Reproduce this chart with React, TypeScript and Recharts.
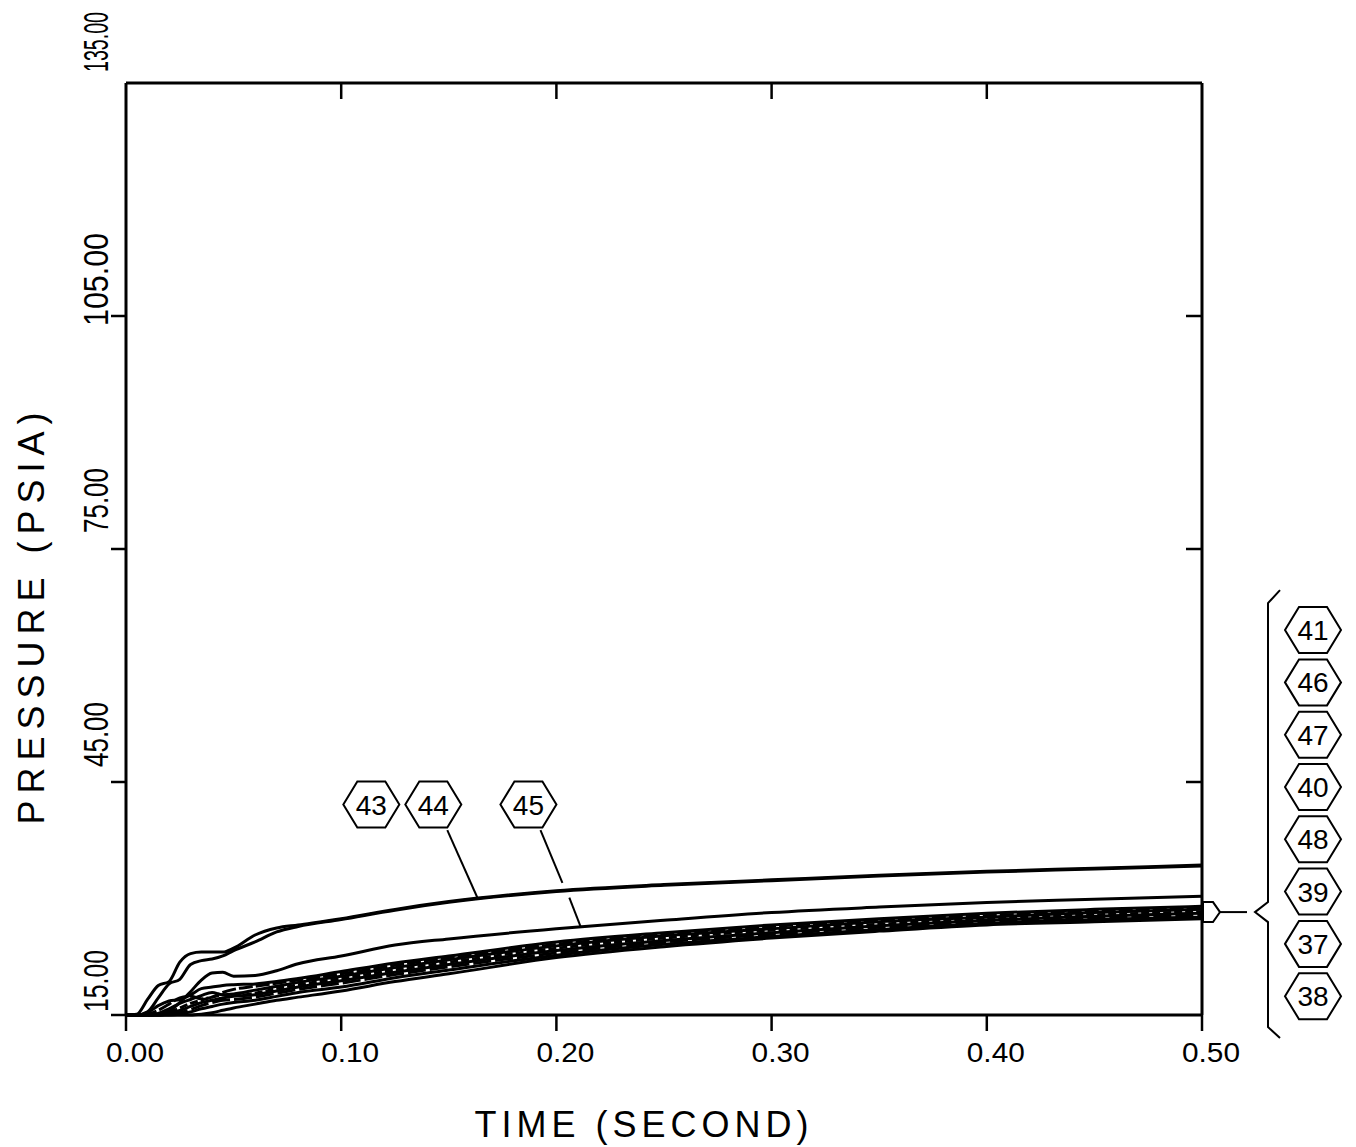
import React from 'react';
import { LineChart, Line, XAxis, YAxis, ReferenceDot, ReferenceLine, Label } from 'recharts';

// time grid (s) shared by all traces
const TIMES = [0, 0.005, 0.01, 0.015, 0.02, 0.025, 0.03, 0.035, 0.04, 0.045, 0.05, 0.06, 0.07, 0.08, 0.1, 0.125, 0.15, 0.2, 0.25, 0.3, 0.35, 0.4, 0.45, 0.5];

// pressure traces (psia), one per node
const P43 = [15, 15.1, 17.0, 18.8, 19.3, 21.8, 22.9, 23.1, 23.1, 23.1, 23.6, 25.3, 26.2, 26.6, 27.4, 28.6, 29.6, 31.0, 31.8, 32.4, 33.0, 33.5, 33.9, 34.3];
const P44 = [15, 15.0, 15.4, 17.2, 19.0, 19.6, 21.5, 22.0, 22.2, 22.6, 23.3, 24.4, 25.7, 26.4, 27.3, 28.5, 29.5, 30.9, 31.7, 32.3, 32.9, 33.4, 33.8, 34.2];
const P45 = [15, 15, 15, 15.1, 15.5, 16.6, 18.0, 19.5, 20.4, 20.5, 20.0, 20.1, 20.7, 21.6, 22.6, 24.0, 24.8, 26.1, 27.2, 28.2, 28.9, 29.5, 29.9, 30.3];
const P41 = [15, 15, 15.3, 16.2, 16.8, 17.0, 17.6, 18.4, 18.6, 18.8, 18.9, 19.0, 19.3, 19.7, 20.6, 21.7, 22.6, 24.4, 25.6, 26.6, 27.4, 28.1, 28.6, 29.0];
const P46 = [15, 15, 15.1, 15.6, 16.4, 17.2, 17.4, 17.1, 17.3, 17.9, 18.3, 18.7, 19.1, 19.5, 20.3, 21.4, 22.4, 24.1, 25.4, 26.4, 27.2, 27.8, 28.4, 28.8];
const P47 = [15, 15, 15, 15.2, 15.8, 16.5, 17.0, 17.5, 17.9, 17.6, 17.7, 18.2, 18.7, 19.2, 20.0, 21.1, 22.1, 23.9, 25.2, 26.1, 27.0, 27.6, 28.2, 28.6];
const P40 = [15, 15, 15, 15.1, 15.4, 15.9, 16.5, 16.9, 17.3, 17.6, 17.5, 17.8, 18.4, 18.9, 19.7, 20.8, 21.8, 23.6, 24.9, 25.9, 26.7, 27.4, 27.9, 28.3];
const P48 = [15, 15, 15, 15, 15.2, 15.6, 16.1, 16.6, 16.9, 17.2, 17.4, 17.6, 18.1, 18.6, 19.4, 20.5, 21.5, 23.3, 24.6, 25.6, 26.5, 27.2, 27.7, 28.1];
const P39 = [15, 15, 15, 15, 15.1, 15.3, 15.7, 16.2, 16.6, 16.9, 17.0, 17.3, 17.8, 18.3, 19.1, 20.2, 21.2, 23.0, 24.4, 25.4, 26.3, 27.0, 27.5, 27.9];
const P37 = [15, 15, 15, 15, 15, 15.1, 15.4, 15.8, 16.1, 16.4, 16.6, 16.9, 17.4, 17.9, 18.6, 19.8, 20.8, 22.7, 24.1, 25.1, 26.0, 26.8, 27.3, 27.6];
const P38 = [15, 15, 15, 15, 15, 15, 15, 15.1, 15.3, 15.6, 15.9, 16.4, 16.9, 17.3, 18.1, 19.3, 20.3, 22.4, 23.8, 24.9, 25.8, 26.6, 27.0, 27.4];

const X_TICKS = [0, 0.1, 0.2, 0.3, 0.4, 0.5];
const Y_TICKS = [15, 45, 75, 105, 135];
const X_MAX = 0.5;
const Y_MIN = 15;
const Y_MAX = 135;

// grouped traces, top to bottom at t = 0.5
const BUNDLE_IDS = ['41', '46', '47', '40', '48', '39', '37', '38'];
const BUNDLE_LEVEL = 28.25;

const SERIES: { id: string; values: number[]; dash?: string }[] = [
  { id: '43', values: P43 },
  { id: '44', values: P44 },
  { id: '45', values: P45 },
  { id: '41', values: P41 },
  { id: '46', values: P46, dash: '14 3' },
  { id: '47', values: P47 },
  { id: '40', values: P40, dash: '8 3' },
  { id: '48', values: P48 },
  { id: '39', values: P39, dash: '18 4' },
  { id: '37', values: P37 },
  { id: '38', values: P38 },
];

const rows = TIMES.map((t, i) => {
  const row: Record<string, number> = { t };
  SERIES.forEach((s) => {
    row['p' + s.id] = s.values[i];
  });
  return row;
});

const FONT = '"Liberation Sans", Arial, sans-serif';

// plot box and inner tick length, used to turn a pixel tick length into data units
const CHART_W = 1356;
const CHART_H = 1147;
const MARGIN = { top: 83, right: 154, bottom: 92, left: 66 };
const PLOT_W = CHART_W - MARGIN.left - 60 - MARGIN.right;
const PLOT_H = CHART_H - MARGIN.top - MARGIN.bottom - 40;
const INNER_TICK = 16;
const topTickLen = (INNER_TICK / PLOT_H) * (Y_MAX - Y_MIN);
const rightTickLen = (INNER_TICK / PLOT_W) * X_MAX;

// y labels run upward; [gap above tick to the label's top end, squeezed length]
const Y_LABEL_FIT: Record<number, [number, number]> = {
  15: [65, 62],
  45: [80, 65],
  75: [81, 65],
  105: [83, 93],
  135: [71, 60],
};
const Y_FONT = 35;
// Liberation Sans advance widths (em)
const textEm = (s: string) => s.split('').reduce((a, c) => a + (c === '.' ? 0.278 : 0.556), 0);

function Hex({ cx, cy, text }: { cx: number; cy: number; text: string }) {
  const w = 28;
  const e = 14;
  const h = 23;
  const pts = [
    [cx - w, cy],
    [cx - e, cy - h],
    [cx + e, cy - h],
    [cx + w, cy],
    [cx + e, cy + h],
    [cx - e, cy + h],
  ]
    .map((p) => p.join(','))
    .join(' ');
  return (
    <g>
      <polygon points={pts} fill="#fff" stroke="#000" strokeWidth={2} />
      <text x={cx} y={cy + 10} textAnchor="middle" fontSize={28} fontFamily={FONT} fill="#000">
        {text}
      </text>
    </g>
  );
}

// arrow on the right frame, brace and the stacked id tags
function BundleTag({ cx, cy }: { cx: number; cy: number }) {
  const arrow = `${cx + 1},${cy - 10} ${cx + 11},${cy - 10} ${cx + 18},${cy} ${cx + 11},${cy + 10} ${cx + 1},${cy + 10}`;
  const brace = `M${cx + 78},${cy - 322} L${cx + 66},${cy - 309} L${cx + 66},${cy - 10} L${cx + 53},${cy} L${cx + 66},${cy + 10} L${cx + 66},${cy + 115} L${cx + 78},${cy + 126}`;
  return (
    <g>
      <polygon points={arrow} fill="#fff" stroke="#000" strokeWidth={2} />
      <line x1={cx + 18} y1={cy} x2={cx + 45} y2={cy} stroke="#000" strokeWidth={2} />
      <path d={brace} fill="none" stroke="#000" strokeWidth={2} />
      {BUNDLE_IDS.map((id, i) => (
        <Hex key={id} cx={cx + 111} cy={cy - 282 + i * 52.3} text={id} />
      ))}
    </g>
  );
}

const XTick = (props: any) => {
  const { x, y, payload } = props;
  return (
    <text
      x={x + 9}
      y={y + 31}
      textAnchor="middle"
      fontSize={28}
      textLength={58}
      lengthAdjust="spacingAndGlyphs"
      fontFamily={FONT}
      fill="#000"
    >
      {payload.value.toFixed(2)}
    </text>
  );
};

const YTick = (props: any) => {
  const { x, y, payload } = props;
  const label = payload.value.toFixed(2);
  const [gap, len] = Y_LABEL_FIT[payload.value] || [81, 65];
  const sx = len / (textEm(label) * Y_FONT);
  return (
    <g>
      {payload.value !== Y_MAX && <line x1={x} y1={y} x2={x + 15} y2={y} stroke="#000" strokeWidth={2.5} />}
      <text
        transform={`translate(${x - 3},${y - gap}) rotate(-90) scale(${sx},1)`}
        textAnchor="end"
        fontSize={Y_FONT}
        fontFamily={FONT}
        fill="#000"
      >
        {label}
      </text>
    </g>
  );
};

const XTitle = (props: any) => {
  const { viewBox } = props;
  const cx = viewBox.x + viewBox.width / 2 - 20;
  return (
    <text x={cx} y={1137} textAnchor="middle" fontSize={36} letterSpacing={5} fontFamily={FONT} fill="#000">
      TIME (SECOND)
    </text>
  );
};

const YTitle = (props: any) => {
  const { viewBox } = props;
  const cy = viewBox.y + viewBox.height / 2 + 66;
  return (
    <text
      transform={`translate(44,${cy}) rotate(-90)`}
      textAnchor="middle"
      fontSize={36}
      letterSpacing={7}
      fontFamily={FONT}
      fill="#000"
    >
      PRESSURE (PSIA)
    </text>
  );
};

const axisLine = { stroke: '#000', strokeWidth: 3 };
const tickLine = { stroke: '#000', strokeWidth: 2.5 };

export default function App() {
  return (
    <div style={{ position: 'absolute', left: 0, top: 0, width: CHART_W, height: CHART_H, background: '#fff' }}>
      <LineChart width={CHART_W} height={CHART_H} data={rows} margin={MARGIN}>
        <XAxis
          dataKey="t"
          type="number"
          domain={[0, X_MAX]}
          ticks={X_TICKS}
          height={40}
          tickSize={16}
          tickMargin={0}
          axisLine={axisLine}
          tickLine={tickLine}
          tick={<XTick />}
        >
          <Label content={<XTitle />} />
        </XAxis>
        <YAxis
          type="number"
          domain={[Y_MIN, Y_MAX]}
          ticks={Y_TICKS}
          width={60}
          tickSize={15}
          tickMargin={0}
          axisLine={axisLine}
          tickLine={false}
          tick={<YTick />}
        >
          <Label content={<YTitle />} />
        </YAxis>

        {/* closing frame along the top and right, with inward ticks */}
        <ReferenceLine y={Y_MAX} stroke="#000" strokeWidth={3} ifOverflow="visible" />
        <ReferenceLine x={X_MAX} stroke="#000" strokeWidth={3} ifOverflow="visible" />
        {X_TICKS.slice(1, -1).map((t) => (
          <ReferenceLine
            key={'tt' + t}
            segment={[{ x: t, y: Y_MAX }, { x: t, y: Y_MAX - topTickLen }]}
            stroke="#000"
            strokeWidth={2.5}
            ifOverflow="visible"
          />
        ))}
        {Y_TICKS.slice(1, -1).map((v) => (
          <ReferenceLine
            key={'rt' + v}
            segment={[{ x: X_MAX, y: v }, { x: X_MAX - rightTickLen, y: v }]}
            stroke="#000"
            strokeWidth={2.5}
            ifOverflow="visible"
          />
        ))}

        {SERIES.map((s) => (
          <Line
            key={s.id}
            dataKey={'p' + s.id}
            type="monotone"
            stroke="#000"
            strokeWidth={3}
            strokeDasharray={s.dash}
            dot={false}
            isAnimationActive={false}
          />
        ))}

        {/* leaders from the tags to their traces */}
        <ReferenceLine
          segment={[{ x: 0.1493, y: 38.8 }, { x: 0.1633, y: 30.1 }]}
          stroke="#000"
          strokeWidth={2}
          ifOverflow="visible"
        />
        <ReferenceLine
          segment={[{ x: 0.1926, y: 38.8 }, { x: 0.2028, y: 32.0 }]}
          stroke="#000"
          strokeWidth={2}
          ifOverflow="visible"
        />
        <ReferenceLine
          segment={[{ x: 0.206, y: 30.1 }, { x: 0.2112, y: 26.4 }]}
          stroke="#000"
          strokeWidth={2}
          ifOverflow="visible"
        />

        <ReferenceDot x={0.114} y={42.1} ifOverflow="visible" shape={(p: any) => <Hex cx={p.cx} cy={p.cy} text="43" />} />
        <ReferenceDot x={0.1428} y={42.1} ifOverflow="visible" shape={(p: any) => <Hex cx={p.cx} cy={p.cy} text="44" />} />
        <ReferenceDot x={0.187} y={42.1} ifOverflow="visible" shape={(p: any) => <Hex cx={p.cx} cy={p.cy} text="45" />} />
        <ReferenceDot x={X_MAX} y={BUNDLE_LEVEL} ifOverflow="visible" shape={(p: any) => <BundleTag cx={p.cx} cy={p.cy} />} />
      </LineChart>
    </div>
  );
}
